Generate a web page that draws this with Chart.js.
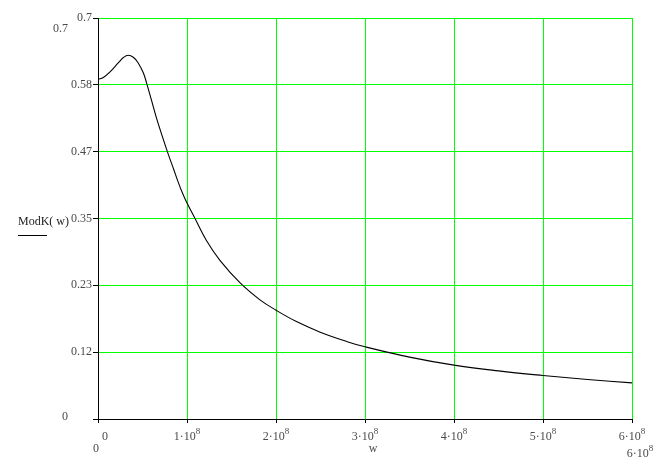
<!DOCTYPE html>
<html>
<head>
<meta charset="utf-8">
<script src="https://cdn.jsdelivr.net/npm/chart.js@4.4.1/dist/chart.umd.min.js"></script>
<style>
  html, body { margin: 0; padding: 0; background: #fff; }
</style>
</head>
<body>
<canvas id="plot" width="672" height="461"></canvas>
<script>
// ModK(w)
const wValues = [0, 0.06e8, 0.135e8, 0.23e8, 0.285e8, 0.34e8, 0.40e8, 0.45e8, 0.51e8, 0.547e8,
                 0.60e8, 0.66e8, 0.73e8, 0.79e8, 0.85e8, 0.90e8, 0.95e8, 1.0e8, 1.09e8, 1.22e8,
                 1.37e8, 1.60e8, 1.82e8, 2.0e8, 2.23e8, 2.49e8, 2.80e8, 3.0e8, 3.5e8, 4.0e8,
                 4.5e8, 5.0e8, 5.5e8, 6.0e8];
const modK = [0.593, 0.596, 0.606, 0.622, 0.631, 0.635, 0.631, 0.622, 0.604, 0.586,
              0.557, 0.524, 0.490, 0.462, 0.436, 0.414, 0.394, 0.377, 0.350, 0.311,
              0.277, 0.237, 0.208, 0.190, 0.170, 0.152, 0.135, 0.126, 0.108, 0.094,
              0.084, 0.076, 0.069, 0.063];

const xTickValues = [0, 1e8, 2e8, 3e8, 4e8, 5e8, 6e8];
const xTickLabels = ['0', '1·10^8', '2·10^8', '3·10^8', '4·10^8', '5·10^8', '6·10^8'];
const yTickValues = [0, 0.11667, 0.23333, 0.35, 0.46667, 0.58333, 0.7];
const yTickLabels = ['', '0.12', '0.23', '0.35', '0.47', '0.58', '0.7'];

const FONT = '"Liberation Serif", "Times New Roman", serif';
const TEXT = '#4a4a4a';

// draws a label like "3·10^8" with a raised exponent
function drawPower(ctx, label, cx, base) {
    const parts = label.split('^');
    ctx.font = '12px ' + FONT;
    const w1 = ctx.measureText(parts[0]).width;
    let w2 = 0;
    if (parts[1]) {
        ctx.font = '9px ' + FONT;
        w2 = ctx.measureText(parts[1]).width;
    }
    const start = cx - (w1 + w2) / 2;
    ctx.textAlign = 'left';
    ctx.font = '12px ' + FONT;
    ctx.fillText(parts[0], start, base);
    if (parts[1]) {
        ctx.font = '9px ' + FONT;
        ctx.fillText(parts[1], start + w1, base - 6);
    }
}

const extraText = {
    id: 'extraText',
    afterDraw(chart) {
        const ctx = chart.ctx;
        const area = chart.chartArea;
        const xs = chart.scales.x;
        ctx.save();
        ctx.fillStyle = TEXT;
        ctx.textBaseline = 'alphabetic';

        // x tick labels
        xTickValues.forEach((v, i) => {
            let px = xs.getPixelForValue(v);
            if (i === 0) px += 7;
            drawPower(ctx, xTickLabels[i], px, area.bottom + 21);
        });

        // axis limits
        ctx.font = '12px ' + FONT;
        ctx.textAlign = 'right';
        ctx.fillText('0.7', area.left - 30, area.top + 14);
        ctx.fillText('0', area.left - 30, area.bottom + 1);
        ctx.textAlign = 'center';
        ctx.fillText('0', area.left - 2, area.bottom + 33);
        drawPower(ctx, '6·10^8', area.right + 8, area.bottom + 38);

        // axis names
        ctx.font = '12px ' + FONT;
        ctx.textAlign = 'center';
        ctx.fillText('w', 373, area.bottom + 33);
        ctx.textAlign = 'left';
        ctx.fillStyle = '#222';
        ctx.fillText('ModK( w)', 18, 225);
        ctx.strokeStyle = '#000';
        ctx.lineWidth = 1;
        ctx.beginPath();
        ctx.moveTo(18, 235.5);
        ctx.lineTo(47, 235.5);
        ctx.stroke();
        ctx.restore();
    }
};

const points = wValues.map((w, i) => ({ x: w, y: modK[i] }));

new Chart(document.getElementById('plot'), {
    type: 'line',
    data: {
        datasets: [{
            data: points,
            borderColor: '#000',
            borderWidth: 1.1,
            pointRadius: 0,
            tension: 0.4,
            fill: false
        }]
    },
    options: {
        responsive: false,
        animation: false,
        devicePixelRatio: 1,
        layout: { padding: { left: 0, right: 40, top: 18, bottom: 0 } },
        plugins: {
            legend: { display: false },
            tooltip: { enabled: false }
        },
        scales: {
            x: {
                type: 'linear',
                min: 0,
                max: 6e8,
                afterBuildTicks: scale => { scale.ticks = xTickValues.map(v => ({ value: v })); },
                afterFit: scale => { scale.height = 42; },
                ticks: { display: false },
                grid: { color: '#00ff00', lineWidth: 1, tickColor: '#000', tickLength: 4 },
                border: { color: '#000', width: 1 }
            },
            y: {
                type: 'linear',
                min: 0,
                max: 0.7,
                afterBuildTicks: scale => { scale.ticks = yTickValues.map(v => ({ value: v })); },
                afterFit: scale => { scale.width = 98; },
                ticks: {
                    callback: (v, i) => yTickLabels[i],
                    font: { family: FONT, size: 12 },
                    color: TEXT,
                    padding: 1
                },
                grid: { color: '#00ff00', lineWidth: 1, tickColor: '#000', tickLength: 5 },
                border: { color: '#000', width: 1 }
            }
        }
    },
    plugins: [extraText]
});
</script>
</body>
</html>
